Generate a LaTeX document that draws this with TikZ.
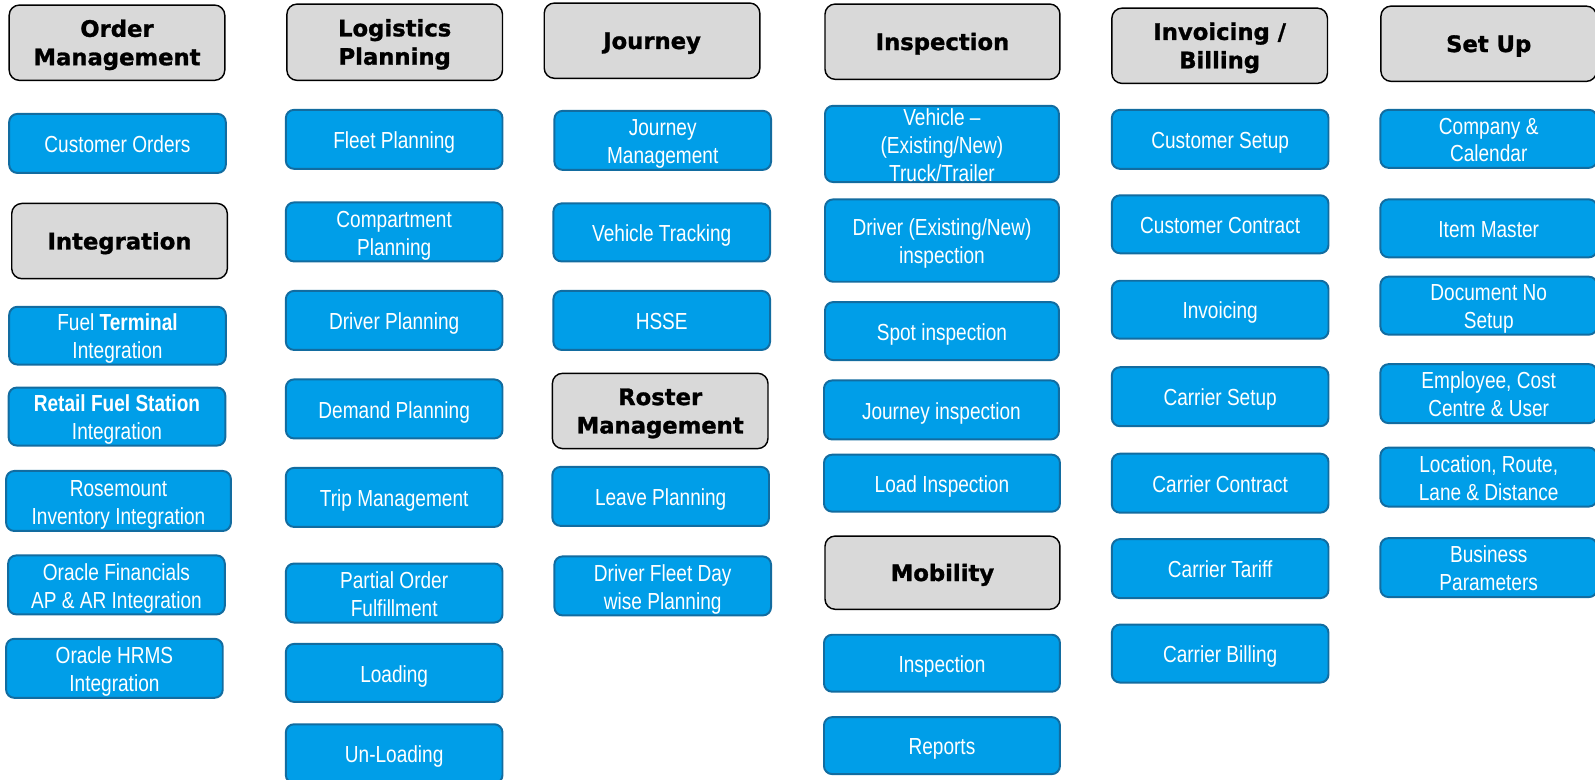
\documentclass[tikz,border=0pt]{standalone}
\usepackage{fontspec}
\setmainfont[FakeStretch=0.82]{Liberation Sans}
\newfontfamily\headfont[FakeBold=1.2]{DejaVu Sans Bold}
\usepackage{tikz}

\definecolor{boxblue}{RGB}{0,158,232}
\definecolor{boxedge}{RGB}{18,108,160}
\definecolor{headgray}{RGB}{217,217,217}

\begin{document}
\begin{tikzpicture}[x=0.02cm, y=-0.02cm,
	box/.style={draw=boxedge, fill=boxblue, line width=1.1pt, rounded corners=0.16cm, minimum width=4.26cm, minimum height=1.16cm, inner sep=0pt, text width=4.2cm, align=flush center, text=white, font=\fontsize{13}{15.6}\selectfont,
		execute at begin node={\rule{0pt}{13.5pt}}, execute at end node={\rule[-3.2pt]{0pt}{3.2pt}}},
	head/.style={draw=black, fill=headgray, line width=0.8pt, rounded corners=0.2cm, minimum width=4.24cm, minimum height=1.48cm, inner sep=0pt, text width=4.2cm, align=flush center, font=\headfont\fontsize{12.7}{15.9}\selectfont,
		execute at begin node={\rule{0pt}{12.8pt}}, execute at end node={\rule[-3.5pt]{0pt}{3.5pt}}}]
	\useasboundingbox (0,0) rectangle (1568,766);
	%\draw[help lines] (0,0) grid[step=100] (1568,766);
	% order management / integration
	\node[head] (ordermgmt) at (115,42) {Order\\Management};
	\node[box] (custorders) at (115.5,141) {Customer Orders};
	\node[head] (integ) at (117.5,237) {Integration};
	\node[box, minimum height=1.12cm] (fuelterm) at (115.5,330) {Fuel \textbf{Terminal}\\Integration};
	\node[box, minimum height=1.14cm] (retail) at (115,409.5) {\textbf{Retail Fuel Station}\\Integration};
	\node[box, minimum width=4.42cm, minimum height=1.18cm] (rosemount) at (116.5,492.5) {Rosemount\\Inventory Integration};
	\node[box] (orafin) at (114.5,575) {Oracle Financials\\AP \& AR Integration};
	\node[box] (orahrms) at (112.5,657) {Oracle HRMS\\Integration};
	% logistics planning
	\node[head, minimum height=1.5cm] (logplan) at (388,41.5) {Logistics\\Planning};
	\node[box] (fleetplan) at (387.5,137) {Fleet Planning};
	\node[box] (comppart) at (387.5,228) {Compartment\\Planning};
	\node[box] (drvplan) at (387.5,315) {Driver Planning};
	\node[box] (demand) at (387.5,402) {Demand Planning};
	\node[box] (trip) at (387.5,489) {Trip Management};
	\node[box] (partial) at (387.5,583) {Partial Order\\Fulfillment};
	\node[box, minimum height=1.14cm] (loading) at (387.5,661.5) {Loading};
	\node[box] (unloading) at (387.5,741) {Un-Loading};
	% journey / roster
	\node[head] (journey) at (641,40) {Journey};
	\node[box] (journeymgmt) at (651.5,138) {Journey\\Management};
	\node[box, minimum height=1.14cm] (tracking) at (650.5,228.5) {Vehicle Tracking};
	\node[box] (hsse) at (650.5,315) {HSSE};
	\node[head] (roster) at (649,404) {Roster\\Management};
	\node[box] (leave) at (649.5,488) {Leave Planning};
	\node[box] (dayplan) at (651.5,576) {Driver Fleet Day\\wise Planning};
	% inspection / mobility
	\node[head, minimum width=4.62cm] (inspect) at (926.5,41) {Inspection};
	\node[box, minimum width=4.6cm, minimum height=1.5cm, inner ysep=-0.12cm] (vehinsp) at (926,141.5) {Vehicle –\\(Existing/New)\\Truck/Trailer};
	\node[box, minimum width=4.6cm, minimum height=1.62cm] (drvinsp) at (926,236.5) {Driver (Existing/New)\\inspection};
	\node[box, minimum width=4.6cm, minimum height=1.14cm] (spot) at (926,325.5) {Spot inspection};
	\node[box, minimum width=4.62cm] (jrninsp) at (925.5,403) {Journey inspection};
	\node[box, minimum width=4.64cm, minimum height=1.12cm] (loadinsp) at (926,475) {Load Inspection};
	\node[head, minimum width=4.62cm, minimum height=1.44cm] (mobility) at (926.5,563) {Mobility};
	\node[box, minimum width=4.64cm, minimum height=1.12cm] (mobinsp) at (926,652) {Inspection};
	\node[box, minimum width=4.64cm, minimum height=1.12cm] (reports) at (926,733) {Reports};
	% invoicing / billing
	\node[head] (billing) at (1199,45) {Invoicing /\\Billing};
	\node[box] (custsetup) at (1199.5,137) {Customer Setup};
	\node[box, minimum height=1.14cm] (custcontract) at (1199.5,220.5) {Customer Contract};
	\node[box, minimum height=1.14cm] (invoicing) at (1199.5,304.5) {Invoicing};
	\node[box] (carsetup) at (1199.5,390) {Carrier Setup};
	\node[box] (carcontract) at (1199.5,475) {Carrier Contract};
	\node[box] (cartariff) at (1199.5,559) {Carrier Tariff};
	\node[box, minimum height=1.14cm] (carbilling) at (1199.5,642.5) {Carrier Billing};
	% set up
	\node[head] (setup) at (1463.5,43) {Set Up};
	\node[box, minimum height=1.14cm] (company) at (1463.5,136.5) {Company \&\\Calendar};
	\node[box, minimum height=1.14cm] (itemmaster) at (1463.5,224.5) {Item Master};
	\node[box, minimum height=1.14cm] (docno) at (1463.5,300.5) {Document No\\Setup};
	\node[box] (employee) at (1463.5,387) {Employee, Cost\\Centre \& User};
	\node[box] (location) at (1463.5,469) {Location, Route,\\Lane \& Distance};
	\node[box] (business) at (1463.5,558) {Business\\Parameters};
\end{tikzpicture}
\end{document}
